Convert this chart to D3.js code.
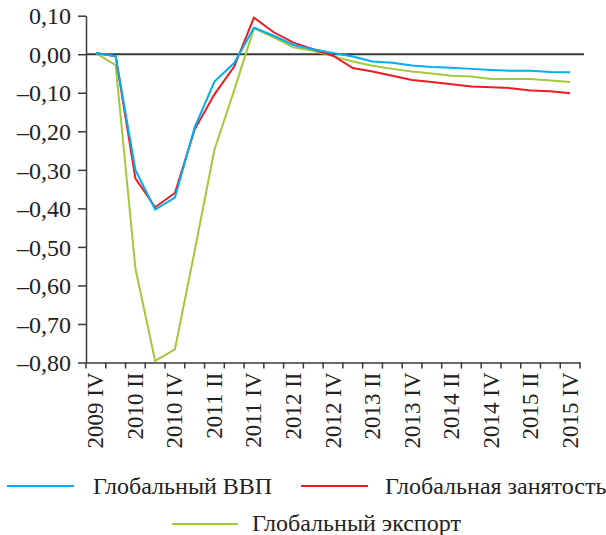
<!DOCTYPE html>
<html><head><meta charset="utf-8">
<script src="https://cdn.jsdelivr.net/npm/d3@7/dist/d3.min.js"></script>
<style>body{margin:0;background:#fff}svg{display:block}</style>
</head><body>
<svg id="c" width="606" height="535"></svg>
<script>
const quarters = ["2009 IV","2010 I","2010 II","2010 III","2010 IV","2011 I","2011 II","2011 III","2011 IV",
 "2012 I","2012 II","2012 III","2012 IV","2013 I","2013 II","2013 III","2013 IV","2014 I","2014 II","2014 III",
 "2014 IV","2015 I","2015 II","2015 III","2015 IV"];
const gdp = [0.003,-0.005,-0.30,-0.403,-0.372,-0.19,-0.071,-0.023,0.069,0.048,0.024,0.013,0.003,-0.006,-0.019,
 -0.022,-0.029,-0.033,-0.035,-0.038,-0.041,-0.043,-0.043,-0.046,-0.047];
const employment = [0.003,-0.005,-0.322,-0.397,-0.36,-0.195,-0.104,-0.032,0.095,0.057,0.030,0.013,-0.004,-0.036,
 -0.045,-0.056,-0.067,-0.072,-0.078,-0.084,-0.086,-0.088,-0.094,-0.096,-0.101];
const exports_ = [0.003,-0.028,-0.556,-0.796,-0.766,-0.51,-0.248,-0.093,0.067,0.044,0.018,0.009,-0.005,-0.019,
 -0.030,-0.038,-0.045,-0.050,-0.056,-0.058,-0.064,-0.064,-0.064,-0.068,-0.072];
const yTicks = [0.10,0.00,-0.10,-0.20,-0.30,-0.40,-0.50,-0.60,-0.70,-0.80];
const seriesNames = ["Глобальный ВВП","Глобальная занятость","Глобальный экспорт"];
const colors = ["#00AEEF","#ED1C24","#A3C93A"];

const svg = d3.select("#c");
const FONT = '"Liberation Serif", serif';
const axisColor = "#3a3a3a";
const x = d3.scaleBand().domain(quarters).range([86,580]);
const y = d3.scaleLinear().domain([-0.80,0.10]).range([362.5,15.7]);
const fmt = v => (v < 0 ? "–" : "") + Math.abs(v).toFixed(2).replace(".", ",");

// zero line
svg.append("line").attr("x1",86).attr("x2",584).attr("y1",y(0)).attr("y2",y(0))
  .attr("stroke",axisColor).attr("stroke-width",2);

// y axis
const ya = svg.append("g").attr("transform","translate(86,0)")
  .call(d3.axisLeft(y).tickValues(yTicks).tickFormat(fmt).tickSize(8).tickSizeOuter(0));
ya.attr("font-family",null).attr("font-size",null);
ya.select(".domain").attr("stroke",axisColor).attr("stroke-width",1.5);
ya.selectAll(".tick line").attr("stroke",axisColor).attr("stroke-width",1.5);
ya.selectAll("text").style("font-family",FONT).style("font-size","24px").attr("fill","#222")
  .attr("x",-15).attr("dy","0.34em");

// x axis
const xa = svg.append("g").attr("transform",`translate(0,${y(-0.80)})`)
  .call(d3.axisBottom(x).tickValues([]).tickSize(0).tickSizeOuter(0));
xa.attr("font-family",null).attr("font-size",null);
xa.select(".domain").attr("stroke",axisColor).attr("stroke-width",1.5);
const bounds = quarters.map(q => x(q)).concat([x.range()[1]]);
xa.selectAll(".bt").data(bounds).join("line").attr("class","bt")
  .attr("x1",d=>d).attr("x2",d=>d).attr("y1",0).attr("y2",6)
  .attr("stroke",axisColor).attr("stroke-width",1.5);
const labelQ = quarters.filter((q,i)=> i%2===0);
xa.selectAll(".lbl").data(labelQ).join("text").attr("class","lbl")
  .attr("transform",d=>`translate(${x(d)+x.bandwidth()/2+7.5},10) rotate(-90)`)
  .attr("text-anchor","end").style("font-family",FONT).style("font-size","23px").attr("fill","#222")
  .text(d=>d);

// lines
const line = d3.line().x((d,i)=>x(quarters[i])+x.bandwidth()/2).y(d=>y(d));
const order = [[exports_,2],[employment,1],[gdp,0]];
order.forEach(([s,k])=>{
  svg.append("path").datum(s).attr("d",line).attr("fill","none")
    .attr("stroke",colors[k]).attr("stroke-width",2).attr("stroke-linejoin","miter");
});

// legend
const legend = [
  {n:0, x1:7, x2:74, ly:486, tx:93, ty:494},
  {n:1, x1:301, x2:368, ly:486, tx:385, ty:494},
  {n:2, x1:172, x2:238, ly:524, tx:252, ty:531}
];
legend.forEach(l=>{
  svg.append("line").attr("x1",l.x1).attr("x2",l.x2).attr("y1",l.ly).attr("y2",l.ly)
    .attr("stroke",colors[l.n]).attr("stroke-width",2);
  svg.append("text").attr("x",l.tx).attr("y",l.ty).style("font-family",FONT).style("font-size","24px")
    .attr("fill","#222").text(seriesNames[l.n]);
});
</script>
</body></html>
